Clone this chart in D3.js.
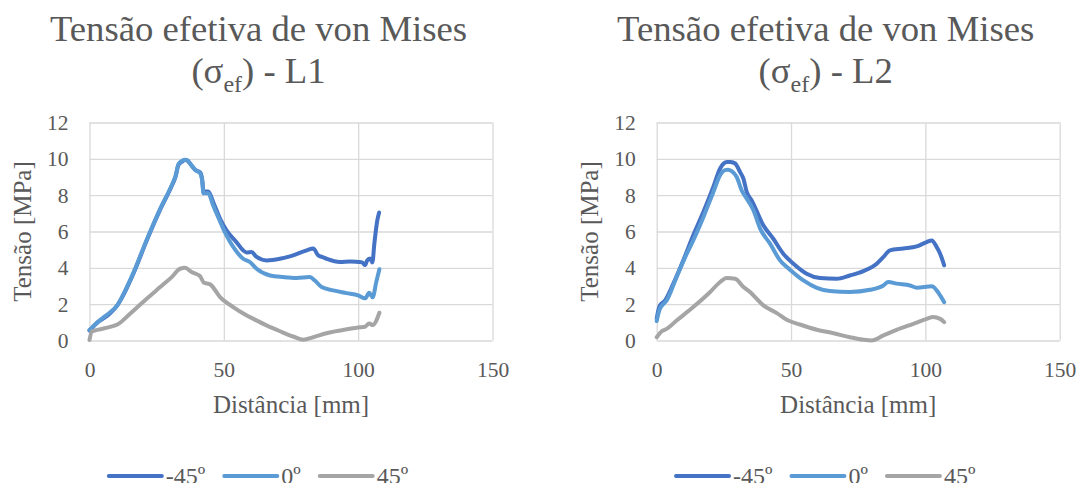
<!DOCTYPE html>
<html>
<head>
<meta charset="utf-8">
<script src="https://cdn.jsdelivr.net/npm/d3@7/dist/d3.min.js"></script>
<style>
  html, body { margin: 0; padding: 0; background: #fff; }
  svg { display: block; }
  text { font-family: "Liberation Serif", "Times New Roman", serif; fill: #595959; }
</style>
</head>
<body>
<svg id="chart" width="1080" height="483"></svg>
<script>
// ---- Data: von Mises effective stress [MPa] vs distance [mm] ----
const seriesNames = ["-45º", "0º", "45º"];
const seriesColors = ["#4472C4", "#5B9BD5", "#A5A5A5"];
const xTicks = [0, 50, 100, 150];
const yTicks = [0, 2, 4, 6, 8, 10, 12];

// L1
const l1DistM45 = [0, 1, 2.9, 5, 7.7, 10.4, 12.6, 16.4, 21.3, 26.3, 30.6, 32, 33.1, 34.5, 35.6, 36.5, 37.4, 39.3, 41.2, 42, 42.4, 44.2, 46.1, 48.6, 51, 54.8, 57.2, 58.5, 60.3, 62.2, 65.9, 70.9, 75.8, 80.8, 83.3, 85.1, 86.5, 88.2, 93.2, 97, 100, 101.5, 102.6, 103.3, 104.4, 105.3, 106.0, 107.1, 107.8];
const l1StressM45 = [0.55, 0.7, 0.98, 1.2, 1.5, 1.95, 2.5, 3.7, 5.5, 7.2, 8.5, 9.0, 9.65, 9.85, 9.93, 9.9, 9.74, 9.4, 9.25, 8.8, 8.2, 8.2, 7.6, 6.7, 6.07, 5.4, 4.96, 4.85, 4.87, 4.6, 4.41, 4.5, 4.69, 4.96, 5.06, 4.69, 4.6, 4.5, 4.32, 4.35, 4.32, 4.3, 4.15, 4.4, 4.52, 4.3, 5.3, 6.6, 7.05];

const l1Dist0 = [0, 1, 2.9, 5, 7.7, 10.4, 12.6, 16.4, 21.3, 26.3, 30.6, 32, 33.1, 34.5, 35.6, 36.5, 37.4, 39.3, 41.2, 42, 42.4, 44.2, 46.1, 47.3, 49.8, 53.5, 57.2, 59.7, 62.2, 67.2, 72.1, 77.1, 82, 83.9, 86.4, 90.7, 95.7, 100, 102.6, 104.1, 105.4, 106.7, 107.9];
const l1Stress0 = [0.58, 0.72, 1.0, 1.25, 1.55, 1.95, 2.55, 3.75, 5.55, 7.25, 8.55, 9.05, 9.7, 9.9, 9.95, 9.9, 9.75, 9.4, 9.2, 8.7, 8.1, 8.1, 7.4, 7.0, 6.15, 5.15, 4.5, 4.32, 3.95, 3.58, 3.49, 3.44, 3.49, 3.3, 2.94, 2.76, 2.61, 2.48, 2.32, 2.63, 2.38, 3.2, 3.92];

const l1Dist45 = [0, 0.9, 2, 4, 7.7, 10.4, 15.1, 21.3, 26.3, 30.6, 33.7, 35.6, 38, 41.1, 42.6, 44.9, 48.6, 53.5, 57.9, 61, 65.9, 70.9, 75.8, 79.6, 83.3, 88.2, 93.2, 100, 102.6, 104.1, 105.4, 107.9];
const l1Stress45 = [0.03, 0.5, 0.55, 0.62, 0.75, 0.88, 1.47, 2.3, 2.94, 3.49, 3.95, 4.0, 3.77, 3.55, 3.18, 3.09, 2.39, 1.84, 1.43, 1.19, 0.83, 0.51, 0.22, 0.04, 0.18, 0.4, 0.55, 0.72, 0.76, 0.94, 0.85, 1.53];

// L2
const l2DistM45 = [0, 0.5, 1.2, 3.1, 6.2, 9.9, 13.6, 17.4, 21.1, 23.6, 25, 26.1, 27.5, 29.2, 31, 32.3, 33.5, 35.4, 39.7, 43.4, 47.1, 50.9, 55.8, 60.8, 67, 71.9, 76.9, 81.9, 84.4, 86.8, 91.8, 96.8, 100.5, 102.4, 104.2, 105.5, 107];
const l2StressM45 = [1.19, 1.6, 1.93, 2.2, 3.13, 4.41, 5.79, 7.08, 8.46, 9.47, 9.75, 9.83, 9.82, 9.74, 9.28, 8.9, 8.18, 7.7, 6.34, 5.6, 4.78, 4.23, 3.68, 3.44, 3.4, 3.58, 3.82, 4.23, 4.6, 4.96, 5.06, 5.18, 5.42, 5.51, 5.15, 4.78, 4.14];

const l2Dist0 = [0, 0.5, 1.2, 3.7, 7.4, 11.2, 13.6, 17.4, 21.1, 23.6, 25.4, 26.5, 27.9, 29.8, 31.6, 33.5, 36, 38.5, 42.2, 45.9, 49.6, 54.6, 59.6, 64.5, 71.9, 79.4, 84.4, 86.2, 89.3, 94.3, 96.8, 102.4, 104.2, 105.5, 107];
const l2Stress0 = [1.07, 1.4, 1.75, 2.2, 3.49, 4.78, 5.51, 6.8, 8.18, 9.1, 9.38, 9.4, 9.32, 9.0, 8.27, 7.81, 7.17, 6.16, 5.33, 4.41, 3.9, 3.31, 2.9, 2.72, 2.67, 2.79, 3.03, 3.22, 3.13, 3.03, 2.9, 2.98, 2.76, 2.48, 2.11];

const l2Dist45 = [0, 1.9, 3.7, 7.4, 13.6, 19.9, 23.6, 26.1, 29.2, 32.3, 34.7, 39.7, 44.7, 48.4, 53.3, 59.6, 65.8, 71.9, 76.9, 80, 84.4, 89.3, 95.5, 100.5, 102.9, 105.5, 107];
const l2Stress45 = [0.18, 0.51, 0.64, 1.1, 1.84, 2.67, 3.22, 3.44, 3.4, 2.94, 2.67, 1.93, 1.51, 1.14, 0.88, 0.59, 0.4, 0.18, 0.04, 0, 0.28, 0.59, 0.92, 1.19, 1.29, 1.19, 1.01];

const panels = [
  { label: "L1", offset: 0,
    series: [[l1DistM45, l1StressM45], [l1Dist0, l1Stress0], [l1Dist45, l1Stress45]] },
  { label: "L2", offset: 567.2,
    series: [[l2DistM45, l2StressM45], [l2Dist0, l2Stress0], [l2Dist45, l2Stress45]] }
];

// ---- Layout ----
const svg = d3.select("#chart");
const plot = { left: 89.5, right: 492.5, top: 122.5, bottom: 340.5 };
const areaWidth = 517;

panels.forEach(p => {
  const g = svg.append("g").attr("transform", `translate(${p.offset},0)`);
  const cx = areaWidth / 2;

  const x = d3.scaleLinear().domain([0, 150]).range([plot.left, plot.right]);
  const y = d3.scaleLinear().domain([0, 12]).range([plot.bottom, plot.top]);

  // Title with subscript
  g.append("text").attr("x", cx).attr("y", 41).attr("text-anchor", "middle")
    .style("font-size", "36.7px").text("Tensão efetiva de von Mises");
  const t2 = g.append("text").attr("x", cx).attr("y", 83).attr("text-anchor", "middle")
    .style("font-size", "36.7px");
  t2.append("tspan").text("(σ");
  t2.append("tspan").attr("dy", 9).style("font-size", "24px").text("ef");
  t2.append("tspan").attr("dy", -9).text(`) - ${p.label}`);

  // Gridlines + tick labels
  const gx = g.append("g").attr("transform", `translate(0,${plot.bottom})`)
    .call(d3.axisBottom(x).tickValues(xTicks).tickSize(-(plot.bottom - plot.top)).tickPadding(21.5));
  const gy = g.append("g").attr("transform", `translate(${plot.left},0)`)
    .call(d3.axisLeft(y).tickValues(yTicks).tickSize(-(plot.right - plot.left)).tickPadding(21));
  [gx, gy].forEach(ax => {
    ax.attr("font-family", null);
    ax.select(".domain").remove();
    ax.selectAll(".tick line").attr("stroke", "#d9d9d9").attr("stroke-width", 1.3);
    ax.selectAll(".tick text").style("font-size", "21.5px").attr("fill", "#595959")
      .style("font-family", "'Liberation Serif', 'Times New Roman', serif");
  });

  // Axis titles
  g.append("text").attr("x", (plot.left + plot.right) / 2).attr("y", 413)
    .attr("text-anchor", "middle").style("font-size", "25px").text("Distância [mm]");
  g.append("text").attr("transform", `translate(31,${(plot.top + plot.bottom) / 2}) rotate(-90)`)
    .attr("text-anchor", "middle").style("font-size", "25px").text("Tensão [MPa]");

  // Series lines
  const line = d3.line().x(d => x(d[0])).y(d => y(d[1])).curve(d3.curveMonotoneX);
  p.series.forEach(([xs, ys], i) => {
    const pts = xs.map((v, k) => [v, ys[k]]);
    g.append("path").datum(pts).attr("d", line)
      .attr("fill", "none").attr("stroke", seriesColors[i]).attr("stroke-width", 4)
      .attr("stroke-linejoin", "round").attr("stroke-linecap", "round");
  });

  // Legend, centred under the chart area
  const lg = g.append("g");
  const lineLen = 53, gapText = 4, gapItem = 19, ly = 476;
  let cur = 0;
  seriesNames.forEach((name, i) => {
    const item = lg.append("g").attr("transform", `translate(${cur},0)`);
    item.append("line").attr("x1", 0).attr("x2", lineLen).attr("y1", ly).attr("y2", ly)
      .attr("stroke", seriesColors[i]).attr("stroke-width", 4).attr("stroke-linecap", "round");
    const t = item.append("text").attr("x", lineLen + gapText).attr("y", ly + 8)
      .style("font-size", "24px").text(name);
    cur += lineLen + gapText + t.node().getComputedTextLength() + gapItem;
  });
  const total = cur - gapItem;
  lg.attr("transform", `translate(${cx - total / 2},0)`);
});
</script>
</body>
</html>
